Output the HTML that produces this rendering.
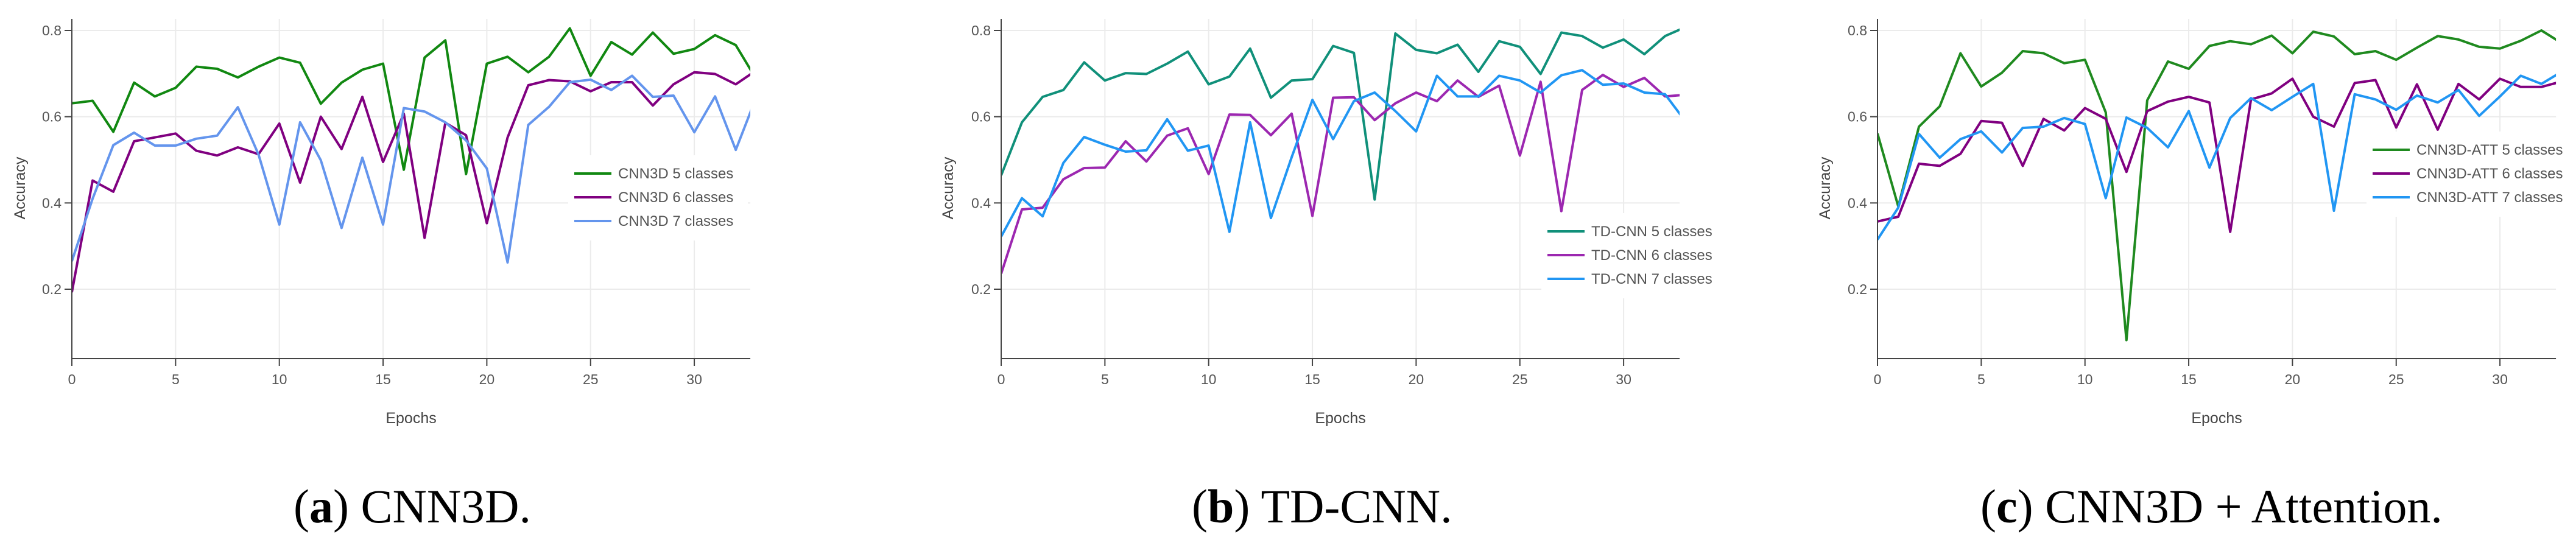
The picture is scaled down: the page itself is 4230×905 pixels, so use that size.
<!DOCTYPE html>
<html><head><meta charset="utf-8"><style>
body{margin:0;background:#fff;width:4230px;height:900px;overflow:hidden}
svg text{font-family:"Liberation Sans",sans-serif}
</style></head><body>
<svg id="fig" width="4230" height="900" viewBox="0 0 4230 900" xmlns="http://www.w3.org/2000/svg"></svg>
<script>
const epochs = Array.from({length:34},(_, i)=>i);
const yTicks = [0.2,0.4,0.6,0.8];
const xTicks = [0,5,10,15,20,25,30];

const a5 = [0.631,0.637,0.565,0.679,0.647,0.667,0.716,0.711,0.691,0.716,0.737,0.725,0.630,0.679,0.709,0.723,0.477,0.737,0.777,0.467,0.723,0.739,0.703,0.739,0.805,0.695,0.773,0.744,0.795,0.746,0.757,0.789,0.766,0.686];
const a6 = [0.193,0.452,0.426,0.543,0.552,0.561,0.521,0.510,0.529,0.513,0.584,0.447,0.600,0.525,0.646,0.495,0.607,0.319,0.586,0.557,0.353,0.552,0.673,0.685,0.682,0.659,0.680,0.680,0.626,0.675,0.703,0.699,0.675,0.708];
const a7 = [0.265,0.410,0.534,0.563,0.533,0.533,0.549,0.556,0.622,0.512,0.350,0.587,0.499,0.342,0.505,0.350,0.620,0.612,0.587,0.545,0.480,0.262,0.581,0.623,0.680,0.686,0.662,0.695,0.646,0.649,0.564,0.647,0.523,0.647];

const b5 = [0.464,0.587,0.646,0.662,0.726,0.684,0.701,0.699,0.723,0.751,0.675,0.693,0.758,0.644,0.684,0.687,0.764,0.748,0.408,0.793,0.755,0.747,0.767,0.704,0.775,0.762,0.699,0.795,0.787,0.760,0.779,0.745,0.787,0.808];
const b6 = [0.236,0.385,0.389,0.455,0.481,0.482,0.543,0.496,0.556,0.573,0.467,0.605,0.604,0.557,0.607,0.370,0.644,0.645,0.592,0.631,0.656,0.636,0.684,0.646,0.672,0.510,0.681,0.381,0.662,0.697,0.669,0.690,0.647,0.651];
const b7 = [0.322,0.411,0.369,0.493,0.553,0.535,0.519,0.522,0.594,0.521,0.533,0.333,0.587,0.365,0.506,0.639,0.548,0.636,0.656,0.613,0.566,0.695,0.647,0.647,0.695,0.684,0.656,0.696,0.708,0.674,0.677,0.656,0.652,0.588];

const c5 = [0.561,0.392,0.577,0.624,0.747,0.670,0.702,0.752,0.747,0.724,0.732,0.610,0.082,0.638,0.728,0.711,0.764,0.775,0.768,0.788,0.747,0.797,0.786,0.745,0.752,0.732,0.760,0.787,0.779,0.762,0.758,0.776,0.800,0.770];
const c6 = [0.357,0.368,0.491,0.486,0.514,0.590,0.586,0.486,0.595,0.568,0.620,0.595,0.472,0.613,0.635,0.646,0.633,0.333,0.640,0.654,0.688,0.600,0.577,0.678,0.685,0.575,0.675,0.570,0.676,0.640,0.688,0.669,0.669,0.682];
const c7 = [0.315,0.389,0.560,0.505,0.548,0.566,0.517,0.574,0.577,0.597,0.583,0.411,0.598,0.574,0.529,0.613,0.482,0.597,0.643,0.615,0.646,0.676,0.382,0.652,0.640,0.616,0.649,0.633,0.662,0.602,0.647,0.695,0.676,0.705];

const labelsA = ["CNN3D 5 classes","CNN3D 6 classes","CNN3D 7 classes"];
const labelsB = ["TD-CNN 5 classes","TD-CNN 6 classes","TD-CNN 7 classes"];
const labelsC = ["CNN3D-ATT 5 classes","CNN3D-ATT 6 classes","CNN3D-ATT 7 classes"];

const NS="http://www.w3.org/2000/svg";
const svg=document.getElementById('fig');
function mk(tag,attrs,parent){const e=document.createElementNS(NS,tag);for(const k in attrs)e.setAttribute(k,attrs[k]);(parent||svg).appendChild(e);return e;}

const panels=[
 {id:'a',x0:118,series:[a5,a6,a7],labels:labelsA,colors:['#118811','#800080','#6495ed'],ylab:32,leg:{x:943,y:285},box:[933,255,295,140],cap:{x:482,t:'CNN3D.'}},
 {id:'b',x0:1644,series:[b5,b6,b7],labels:labelsB,colors:['#10907a','#9c27b0','#2196f3'],ylab:1556,leg:{x:2541,y:380},box:[2531,350,320,140],cap:{x:1957,t:'TD-CNN.'}},
 {id:'c',x0:3083,series:[c5,c6,c7],labels:labelsC,colors:['#1f8a1f','#800080','#2196f3'],ylab:2996,leg:{x:3896,y:246},box:[3886,216,344,140],cap:{x:3252,t:'CNN3D + Attention.'}}
];
const PX=34.07, XMAX=32.7, YTOP=31, YBOT=589;
const yS=v=>50+(0.8-v)*(425/0.6);

panels.forEach(p=>{
  const xS=e=>p.x0+e*PX;
  const g=mk('g',{});
  
  
  const xEnd=xS(XMAX);
  xTicks.forEach(t=>{const l=mk('line',{x1:xS(t),x2:xS(t),y1:YTOP,y2:YBOT,stroke:'#ebebeb','stroke-width':2},g);
    });
  yTicks.forEach(t=>{const l=mk('line',{x1:p.x0,x2:xEnd,y1:yS(t),y2:yS(t),stroke:'#ebebeb','stroke-width':2},g);
    });
  const cp=mk('clipPath',{id:'clip'+p.id},g);
  mk('rect',{x:p.x0,y:YTOP-5,width:xEnd-p.x0,height:YBOT-YTOP+5},cp);
  const lb=mk('rect',{x:p.box[0],y:p.box[1],width:p.box[2],height:p.box[3],fill:'#fff'},g);
  
  p.series.forEach((s,i)=>{
    const d=s.map((v,k)=>(k?'L':'M')+xS(epochs[k]).toFixed(1)+','+yS(v).toFixed(1)).join('');
    const path=mk('path',{d:d,fill:'none',stroke:p.colors[i],'stroke-width':4,'stroke-linejoin':'round','clip-path':'url(#clip'+p.id+')'},g);
    
    
  });
  const ya=mk('line',{x1:p.x0,x2:p.x0,y1:YTOP,y2:YBOT+1,stroke:'#444','stroke-width':2},g);
  
  const xa=mk('line',{x1:p.x0-1,x2:xEnd,y1:YBOT,y2:YBOT,stroke:'#444','stroke-width':2},g);
  
  yTicks.forEach(t=>{
    mk('line',{x1:p.x0-12,x2:p.x0,y1:yS(t),y2:yS(t),stroke:'#444','stroke-width':2},g);
    const tx=mk('text',{x:p.x0-17,y:yS(t)+8,'font-size':23,fill:'#555','text-anchor':'end'},g);
    tx.textContent=t.toFixed(1);
    
  });
  xTicks.forEach(t=>{
    mk('line',{x1:xS(t),x2:xS(t),y1:YBOT,y2:YBOT+12,stroke:'#444','stroke-width':2},g);
    const tx=mk('text',{x:xS(t),y:631,'font-size':23,fill:'#555','text-anchor':'middle'},g);
    tx.textContent=t;
    
  });
  const yl=mk('text',{x:0,y:0,'font-size':25,fill:'#444','text-anchor':'middle',transform:'translate('+(p.ylab+9)+',309) rotate(-90)'},g);
  yl.textContent='Accuracy';
  
  const xl=mk('text',{x:(p.x0+xEnd)/2,y:695,'font-size':25,fill:'#444','text-anchor':'middle'},g);
  xl.textContent='Epochs';
  
  p.labels.forEach((lab,i)=>{
    const y=p.leg.y+i*39;
    const le=mk('g',{},g);
    
    mk('line',{x1:p.leg.x,x2:p.leg.x+61,y1:y,y2:y,stroke:p.colors[i],'stroke-width':4},le);
    const t=mk('text',{x:p.leg.x+72,y:y+8,'font-size':24,fill:'#555'},le);
    t.textContent=lab;
  });
  const cap=mk('text',{x:p.cap.x,y:858,'font-size':78,fill:'#000'},svg);
  cap.setAttribute('style','font-family:"Liberation Serif",serif');
  
  const t1=mk('tspan',{},cap);t1.textContent='(';
  const t2=mk('tspan',{'font-weight':'bold'},cap);t2.textContent=p.id;
  const t3=mk('tspan',{},cap);t3.textContent=') '+p.cap.t;
});
</script>
</body></html>
